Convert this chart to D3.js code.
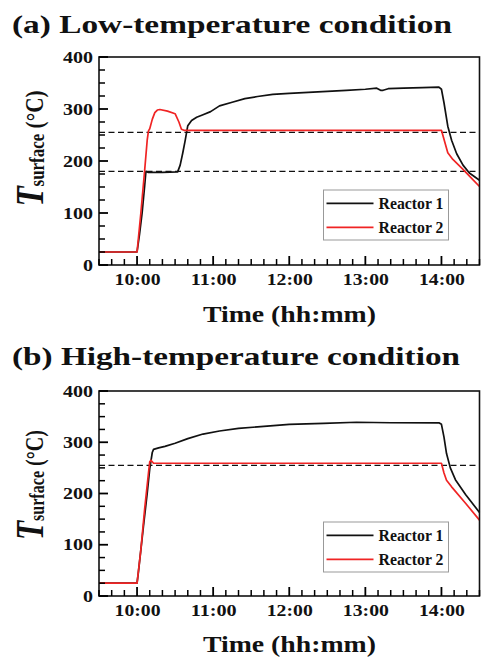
<!DOCTYPE html>
<html><head><meta charset="utf-8">
<script src="https://cdn.jsdelivr.net/npm/d3@7"></script>
<style>
body{margin:0;background:#fff}
svg{display:block}
text{font-family:"Liberation Serif","Times New Roman",serif;font-weight:bold;fill:#111}
</style>
</head><body>
<svg id="c" width="481" height="657"></svg>
<script>
// ---------- data ----------
const timeDomain = ["09:30", "14:30"];
const hourTicks = ["10:00", "11:00", "12:00", "13:00", "14:00"];
const yTicks = [0, 100, 200, 300, 400];
const seriesNames = ["Reactor 1", "Reactor 2"];
const titles = ["(a) Low-temperature condition", "(b) High-temperature condition"];

const aR1Time = ["09:30","10:00","10:02","10:04","10:06","10:07","10:09","10:20","10:32","10:34","10:36","10:38","10:40","10:43","10:47","10:52","10:58","11:05","11:15","11:25","11:35","11:47","12:00","12:15","12:30","12:45","13:00","13:09","13:12","13:14","13:18","13:30","13:45","13:58","14:00","14:02","14:05","14:08","14:12","14:17","14:22","14:30"];
const aR1Temp = [25,25,60,100,152,180,178,178,179,192,215,240,268,278,284,289,295,306,313,320,324,328,330,332,334,336,338,340,336,336,339,340,341,342,338,312,267,240,214,192,177,163];

const aR2Time = ["09:30","10:00","10:03","10:06","10:08","10:09","10:10","10:12","10:14","10:16","10:18","10:24","10:30","10:33","10:35","10:37","14:00","14:02","14:05","14:09","14:17","14:24","14:30"];
const aR2Temp = [25,25,100,182,240,258,262,280,293,298,299,296,291,275,261,259,259,242,216,203,184,166,151];

const bR1Time = ["09:30","10:00","10:01","10:05","10:08","10:10","10:12","10:13","10:17","10:22","10:30","10:40","10:52","11:05","11:20","11:35","12:00","12:27","12:53","13:20","13:58","14:00","14:02","14:04","14:07","14:11","14:19","14:30"];
const bR1Temp = [25,25,45,135,200,248,280,286,289,292,298,307,316,322,327,330,335,337,339,338,338,335,310,278,250,227,198,163];

const bR2Time = ["09:30","10:00","10:03","10:06","10:09","10:10","10:11","10:13","14:00","14:02","14:04","14:08","14:19","14:30"];
const bR2Temp = [25,25,90,170,240,262,265,259,259,240,226,213,181,148];

const aRefLines = [180, 255];
const bRefLines = [255];

// ---------- drawing ----------
const parse = d3.timeParse("%H:%M");
const svg = d3.select("#c");
const colors = ["#111111", "#f02424"];

const panels = [
  {title: titles[0], titleW: 440, titleY: 33, top: 57, bottom: 265, xLabY: 322, yLabC: 148.5, yLabLen: 116, legTop: 190,
   series: [[aR1Time, aR1Temp], [aR2Time, aR2Temp]], refs: aRefLines},
  {title: titles[1], titleW: 448, titleY: 365, top: 391, bottom: 596, xLabY: 652, yLabC: 485, yLabLen: 110, legTop: 522,
   series: [[bR1Time, bR1Temp], [bR2Time, bR2Temp]], refs: bRefLines}
];

const X0 = 99, X1 = 479.5;

panels.forEach(p => {
  const g = svg.append("g");
  const x = d3.scaleTime().domain(timeDomain.map(parse)).range([X0, X1]);
  const y = d3.scaleLinear().domain([0, 400]).range([p.bottom, p.top]);

  // title
  g.append("text").attr("x", 12).attr("y", p.titleY)
    .attr("font-size", 24.5).attr("textLength", p.titleW).attr("lengthAdjust", "spacingAndGlyphs")
    .text(p.title);

  // reference dashed lines
  g.selectAll(".ref").data(p.refs).enter().append("line")
    .attr("x1", X0).attr("x2", X1).attr("y1", d => y(d)).attr("y2", d => y(d))
    .attr("stroke", "#111").attr("stroke-width", 1.2).attr("stroke-dasharray", "6,3.5");

  // data lines
  const line = d3.line().x(d => x(d[0])).y(d => y(d[1]));
  p.series.forEach((s, i) => {
    const pts = s[0].map((t, k) => [parse(t), s[1][k]]);
    g.append("path").datum(pts).attr("d", line)
      .attr("fill", "none").attr("stroke", colors[i]).attr("stroke-width", 1.7)
      .attr("stroke-linejoin", "round");
  });

  // frame
  g.append("rect").attr("x", X0).attr("y", p.top).attr("width", X1 - X0).attr("height", p.bottom - p.top)
    .attr("fill", "none").attr("stroke", "#111").attr("stroke-width", 1.6);

  // ticks (inward), from the scales
  const fmt = d3.timeFormat("%H:%M");
  const xt = d3.timeMinute.every(10).range(x.domain()[0], new Date(+x.domain()[1] + 1));
  const isMajX = d => hourTicks.indexOf(fmt(d)) >= 0;
  xt.forEach(d => {
    g.append("line")
      .attr("x1", x(d)).attr("x2", x(d))
      .attr("y1", p.bottom).attr("y2", p.bottom - (isMajX(d) ? 9 : 6))
      .attr("stroke", "#000").attr("stroke-width", isMajX(d) ? 1.8 : 1.5);
  });
  d3.range(0, 401, 25).forEach(d => {
    g.append("line")
      .attr("y1", y(d)).attr("y2", y(d))
      .attr("x1", X0).attr("x2", X0 + (d % 100 === 0 ? 9 : 6))
      .attr("stroke", "#000").attr("stroke-width", d % 100 === 0 ? 1.8 : 1.5);
  });

  // axis labels via d3 axes (tick lines hidden)
  const gx = g.append("g").attr("transform", `translate(0,${p.bottom})`)
    .call(d3.axisBottom(x).tickValues(hourTicks.map(parse)).tickSize(0)
      .tickPadding(8.6).tickFormat(fmt))
    .call(s => s.select(".domain").remove())
    .attr("font-family", null).attr("font-size", 16);
  gx.selectAll("line").remove();
  gx.selectAll("text").attr("fill", "#111").attr("textLength", 46).attr("lengthAdjust", "spacingAndGlyphs");

  const gy = g.append("g").attr("transform", `translate(${X0},0)`)
    .call(d3.axisLeft(y).tickValues(yTicks).tickSize(0).tickPadding(6))
    .call(s => s.select(".domain").remove())
    .attr("font-family", null).attr("font-size", 16);
  gy.selectAll("line").remove();
  gy.selectAll("text").attr("fill", "#111")
    .attr("textLength", d => String(d).length * 10).attr("lengthAdjust", "spacingAndGlyphs");

  // x label
  g.append("text").attr("x", 203).attr("y", p.xLabY).attr("font-size", 24)
    .attr("textLength", 173).attr("lengthAdjust", "spacingAndGlyphs").text("Time (hh:mm)");

  // y label
  const yl = g.append("text")
    .attr("transform", `translate(42.5,${p.yLabC}) scale(1.3,1) rotate(-90)`)
    .attr("text-anchor", "middle")
    .attr("textLength", p.yLabLen).attr("lengthAdjust", "spacingAndGlyphs");
  yl.append("tspan").attr("font-size", 31).attr("font-style", "italic").text("T");
  yl.append("tspan").attr("font-size", 16).attr("dy", 1).text("surface");
  yl.append("tspan").attr("font-size", 20).attr("dy", -1).text(" (°C)");

  // legend
  const lg = g.append("g").attr("transform", `translate(323.5,${p.legTop})`);
  lg.append("rect").attr("width", 125).attr("height", 50).attr("fill", "#fff")
    .attr("stroke", "#999").attr("stroke-width", 1);
  seriesNames.forEach((n, i) => {
    const ly = 13.3 + i * 24;
    lg.append("line").attr("x1", 3).attr("x2", 50).attr("y1", ly).attr("y2", ly)
      .attr("stroke", colors[i]).attr("stroke-width", 1.8);
    lg.append("text").attr("x", 55).attr("y", ly + 6).attr("font-size", 16.5)
      .attr("textLength", 65).attr("lengthAdjust", "spacingAndGlyphs").text(n);
  });
});
</script>
</body></html>
